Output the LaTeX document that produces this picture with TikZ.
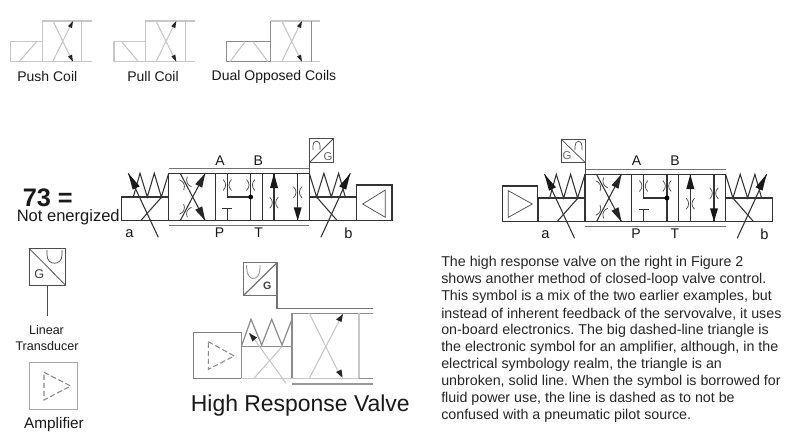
\documentclass[tikz,border=0pt]{standalone}
\usepackage{fontspec}
\setmainfont{Liberation Sans}
\tikzset{
  ln/.style={line width=0.8pt,black!80},
  thin line/.style={line width=0.55pt,black!70},
  pale/.style={line width=0.8pt,black!22},
  midg/.style={line width=0.9pt,black!45},
  txt/.style={inner sep=0pt,text=black!90},
  dashtri/.style={line width=0.8pt,black!45,dash pattern=on 4pt off 2pt},
}
\newcommand{\fs}[1]{\fontsize{#1}{#1}\selectfont}
\newcommand{\restr}[3][0]{%
  \begin{scope}[shift={(#2,#3)},rotate=#1]
    \draw[thin line] (-4.2,-5.5) .. controls (-0.8,-2) and (-0.8,2) .. (-4.2,5.5);
    \draw[thin line] (4.2,-5.5) .. controls (0.8,-2) and (0.8,2) .. (4.2,5.5);
  \end{scope}}
% the shared valve core, origin is top-left of the centre envelope
\newcommand{\valvecore}{%
  \draw[ln,line width=1pt] (0,0) rectangle (140.6,47.4);
  \draw[ln,line width=1pt] (46.6,0) -- (46.6,47.4) (93.6,0) -- (93.6,47.4);
  \draw[thin line,black!55] (0,-4.6) -- (140.6,-4.6);
  \draw[thin line,black!55] (0,52) -- (140.6,52);
  % section 1
  \draw[ln] (11.5,0) -- (36.5,47.4);
  \draw[ln] (11.5,47.4) -- (36.5,0);
  \fill[black!85] (36.5,47.4) -- (26.5,36.5) -- (33.5,33) -- cycle;
  \fill[black!85] (36.5,0) -- (26.5,10.9) -- (33.5,14.4) -- cycle;
  \restr[22]{16.8}{10}
  \restr[-22]{16.8}{37.4}
  % section 2
  \draw[ln] (58.6,0) -- (58.6,23.7) -- (82,23.7);
  \draw[ln] (82,0) -- (82,47.4);
  \fill[black] (82,23.7) circle (2.4);
  \draw[ln] (58.6,35.4) -- (58.6,47.4) (53.6,35.4) -- (63.6,35.4);
  \restr{58.6}{11.7}
  \restr{82}{11.7}
  % section 3
  \draw[ln] (105.3,0) -- (105.3,47.4);
  \draw[ln] (129,0) -- (129,47.4);
  \fill[black!90] (105.3,0) -- (101.3,14.7) -- (109.3,14.7) -- cycle;
  \fill[black!90] (129,47.4) -- (125,34) -- (133,34) -- cycle;
  \restr{105.3}{29.4}
  \restr{129}{19}
  % left solenoid box and spring
  \draw[ln] (0,23.7) -- (-47,23.7) -- (-47,47.4) -- (0,47.4);
  \draw[ln] (-35.4,23.7) -- (-28.7,0) -- (-21.4,23.7) -- (-14.4,0) -- (-7.4,23.7) -- (0,0);
  \draw[ln] (-28,47.4) -- (-7,23.7);
  \draw[ln] (-40.4,0) -- (-10.4,64);
  \fill[black!90] (-40.4,0) -- (-29,13) -- (-36,16.3) -- cycle;
  % right solenoid box and spring
  \draw[ln] (140.6,23.7) -- (187.6,23.7) -- (187.6,47.4) -- (140.6,47.4);
  \draw[ln] (140.6,0) -- (147.9,23.7) -- (155.2,0) -- (162.6,23.7) -- (169.9,0) -- (176.6,23.7);
  \draw[ln] (147.9,23.7) -- (168.6,47.4);
  \draw[ln] (152.2,64) -- (181.6,0);
  \fill[black!90] (181.6,0) -- (170.5,13) -- (177.5,16.3) -- cycle;
}
\begin{document}
\frenchspacing
\begin{tikzpicture}[x=0.75pt,y=-0.75pt]
\useasboundingbox (0,0) rectangle (800,447);
\fill[white] (0,0) rectangle (800,447);

% ---- top row: coil styles
\draw[pale] (42.3,41.7) -- (10.7,41.7) -- (10.7,61.7) -- (42.3,61.7);
\draw[pale] (91.7,21) -- (42.3,21) -- (42.3,61.7) -- (91.7,61.7);
\draw[pale] (81.7,21) -- (81.7,61.7);
\draw[pale] (19,61.7) -- (36.7,41.7);
\draw[pale] (53,21) -- (72.7,61.7) (52.7,61.7) -- (72.7,21);
\fill[black!85] (73,61.7) -- (68,56.5) -- (72,54.5) -- cycle;
\fill[black!85] (73,21) -- (68,26.2) -- (72,28.2) -- cycle;

\draw[pale] (145.7,41.7) -- (114,41.7) -- (114,61.7) -- (145.7,61.7);
\draw[pale] (195,21) -- (145.7,21) -- (145.7,61.7) -- (195,61.7);
\draw[pale] (185.7,21) -- (185.7,61.7);
\draw[pale] (121.7,41.7) -- (138.3,61.7);
\draw[pale] (156,21) -- (176,61.7) (156,61.7) -- (176,21);
\fill[black!85] (176.3,61.7) -- (171.3,56.5) -- (175.3,54.5) -- cycle;
\fill[black!85] (176.3,21) -- (171.3,26.2) -- (175.3,28.2) -- cycle;

\draw[midg] (270.7,41.7) -- (226.7,41.7) -- (226.7,61.7) -- (270.7,61.7);
\draw[pale] (320,21) -- (270.7,21) (270.7,61.7) -- (320,61.7);
\draw[midg] (270.7,21) -- (270.7,61.7);
\draw[midg] (311.7,21) -- (311.7,61.7);
\draw[pale] (230,61.7) -- (245,41.7) (253,41.7) -- (268,61.7);
\draw[pale] (281.7,21) -- (301.7,61.7) (281.7,61.7) -- (301.7,21);
\fill[black!85] (302,61.7) -- (297,56.5) -- (301,54.5) -- cycle;
\fill[black!85] (302,21) -- (297,26.2) -- (301,28.2) -- cycle;

\node[txt] (lpush) at (47.3,76.5) {\fs{10.5}Push Coil};
\node[txt] (lpull) at (153,76.5) {\fs{10.5}Pull Coil};
\node[txt] (ldual) at (274,76.5) {\fs{10.5}Dual Opposed Coils};

% ---- left valve
\begin{scope}[shift={(168.7,173.3)}]
 \valvecore
\end{scope}
\draw[ln] (356.3,185) rectangle (392,220.7);
\draw[thin line] (385.3,190) -- (362.7,204) -- (385.3,217.3) -- cycle;
\draw[thin line] (309.7,138.3) rectangle (333.7,162.3);
\draw[thin line] (309.7,162.3) -- (333.7,138.3);
\draw[thin line] (309.7,162.3) -- (309.7,173.3);
\draw[thin line] (313,150) -- (313,146) .. controls (313,139.5) and (320,139.5) .. (320,146) -- (320,149.5);
\node[txt,text=black!60] (gl) at (328,156.5) {\fs{8.5}G};
\node[txt] (la) at (220,160.7) {\fs{10.5}A};
\node[txt] (lb) at (258.3,160.7) {\fs{10.5}B};
\node[txt] (lp) at (219.5,233) {\fs{10.5}P};
\node[txt] (lt) at (258.7,233) {\fs{10.5}T};
\node[txt] (laa) at (129.5,234) {\fs{11}a};
\node[txt] (lbb) at (348.5,233) {\fs{11}b};
\node[txt,anchor=west] (seven) at (22.5,198) {\fs{19}\textbf{73 =}};
\node[txt,anchor=west] (notenergized) at (16.5,217.5) {\fs{12.4}Not energized};

% ---- right valve
\begin{scope}[shift={(585,174.3)}]
 \valvecore
\end{scope}
\draw[ln] (502.7,186) rectangle (537.7,221.7);
\draw[thin line] (508.3,190.7) -- (532.3,204) -- (508.3,217.3) -- cycle;
\draw[thin line] (561,139) rectangle (585,162.3);
\draw[thin line] (561,139) -- (585,162.3);
\draw[thin line] (585,162.3) -- (585,174.3);
\draw[thin line] (575,150) -- (575,146) .. controls (575,139.8) and (582,139.8) .. (582,146) -- (582,150);
\node[txt,text=black!60] (gr) at (567,156) {\fs{8.5}G};
\node[txt] (ra) at (636.5,161) {\fs{10.5}A};
\node[txt] (rb) at (675,161) {\fs{10.5}B};
\node[txt] (rp) at (636,234) {\fs{10.5}P};
\node[txt] (rt) at (675,234) {\fs{10.5}T};
\node[txt] (raa) at (545.5,235) {\fs{11}a};
\node[txt] (rbb) at (764.5,234) {\fs{11}b};

% ---- linear transducer
\draw[thin line] (29,248.3) rectangle (65.7,285.3);
\draw[thin line] (29,248.3) -- (65.7,285.3);
\draw[thin line] (47,250) -- (47,255) .. controls (47,266) and (62,266) .. (62,255) -- (62,250);
\node[txt,text=black!75] (gt) at (39.3,274) {\fs{9.5}G};
\draw[thin line] (47,285.3) -- (47,316);
\node[txt] (ln1) at (46.5,330.5) {\fs{9.4}Linear};
\node[txt] (ln2) at (47,345.7) {\fs{9.4}Transducer};
% ---- amplifier
\draw[line width=0.9pt,black!35] (29.3,362.7) rectangle (77.3,409.3);
\draw[dashtri] (44,372.3) -- (70.7,386) -- (44,400) -- cycle;
\node[txt] (lamp) at (54,425) {\fs{11.5}Amplifier};

% ---- high response valve
\draw[line width=0.9pt,black!55] (243.3,262.7) rectangle (277,295.7);
\draw[line width=0.9pt,black!55] (243.3,295.7) -- (277,262.7);
\draw[line width=0.7pt,black!40] (246.7,265) -- (246.7,268) .. controls (246.7,282) and (260,282) .. (260,268) -- (260,265);
\node[txt,text=black!75,font=\bfseries] (gh) at (267.3,286) {\fs{8}G};
\draw[line width=1.1pt,black!55] (277,295.7) -- (277,308.7) -- (373.3,308.7);
\draw[line width=1.1pt,black!40] (292,384) -- (373.3,384);
\draw[midg] (373.3,313.3) -- (292,313.3) -- (292,378.3);
\draw[pale] (292,378.3) -- (359,378.3);
\draw[midg] (359,378.3) -- (373.3,378.3);
\draw[pale] (359,313.3) -- (359,378.3);
\draw[line width=0.9pt,black!50] (241.3,332.7) rectangle (193.3,378.3);
\draw[midg] (241.3,346.7) -- (292,346.7);
\draw[midg] (241.3,332.7) -- (241.3,378.3);
\draw[pale] (241.3,378.3) -- (292,378.3);
\draw[dashtri] (208.3,341.7) -- (234.3,356) -- (208.3,369.3) -- cycle;
\draw[midg] (241.3,346.7) -- (251,319.3) -- (261.7,345) -- (271.7,319.3) -- (282,345) -- (292,319.3);
\draw[pale] (254,378.3) -- (282,346.7);
\draw[pale] (286,383.3) -- (250,333.3);
\fill[black!85] (249,333) -- (257,337.5) -- (252.5,341.5) -- cycle;
\draw[pale] (309.3,313.3) -- (341,377.3) (309.3,378.3) -- (342.7,314);
\fill[black!85] (342.5,377.5) -- (336,372) -- (341.5,369.5) -- cycle;
\fill[black!85] (343,314) -- (336,319.5) -- (341.5,322) -- cycle;
\node[txt] (hrv) at (300.3,406) {\fs{17.2}High Response Valve};

% ---- paragraph
\foreach \t/\yy [count=\i] in {
 The high response valve on the right in Figure 2/263.3,
 shows another method of closed-loop valve control./280,
 This symbol is a mix of the two earlier examples{,} but/297.2,
 instead of inherent feedback of the servovalve{,} it uses/314,
 on-board electronics. The big dashed-line triangle is/331,
 the electronic symbol for an amplifier{,} although{,} in the/348,
 electrical symbology realm{,} the triangle is an/365,
 unbroken{,} solid line. When the symbol is borrowed for/382,
 fluid power use{,} the line is dashed as to not be/398.5,
 confused with a pneumatic pilot source./415.7}
 {\node[txt,anchor=west,text=black!85] (para\i) at (441,\yy) {\fs{10.7}\t};}
\end{tikzpicture}
\end{document}
